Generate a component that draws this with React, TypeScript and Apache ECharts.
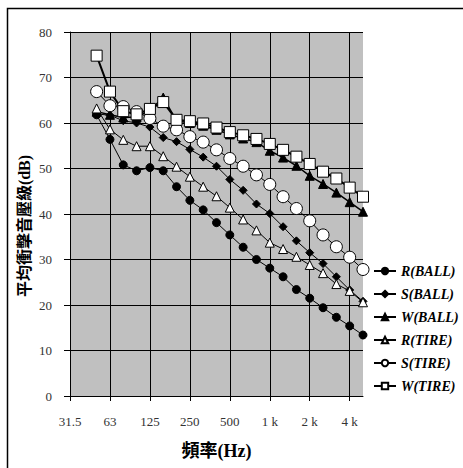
import React, { useEffect, useRef } from "react";
import * as echarts from "echarts";

const categories = [
  "31.5", "40", "50", "63", "80", "100", "125", "160", "200", "250", "315", "400",
  "500", "630", "800", "1 k", "1.25 k", "1.6 k", "2 k", "2.5 k", "3.15 k", "4 k", "5 k",
];
const labelIndices = [0, 3, 6, 9, 12, 15, 18, 21];
const yTicks = { min: 0, max: 80, interval: 10 };

// values from 50 Hz to 5 kHz (first two bands empty)
const rBall = [null, null, 61.8, 56.4, 50.8, 49.5, 50.2, 49.5, 46.0, 43.0, 40.9, 38.1, 35.4, 32.7, 30.0, 28.1, 26.2, 23.4, 21.5, 19.4, 17.3, 15.4, 13.4];
const sBall = [null, null, 62.0, 61.7, 60.5, 60.0, 59.1, 56.8, 55.9, 54.2, 52.5, 50.5, 47.6, 45.2, 42.2, 40.1, 37.2, 34.1, 31.5, 29.1, 26.2, 23.3, 20.8];
const wBall = [null, null, 62.5, 61.8, 61.2, 61.3, 62.8, 65.6, 60.5, 60.0, 59.4, 58.5, 57.5, 56.6, 55.8, 53.9, 52.4, 50.6, 48.4, 46.6, 44.7, 42.6, 40.5];
const rTire = [null, null, 63.2, 58.6, 56.3, 54.9, 54.9, 52.7, 50.4, 48.2, 46.0, 43.9, 41.4, 38.8, 36.4, 33.7, 32.3, 30.6, 28.8, 27.0, 24.6, 23.1, 20.6];
const sTire = [null, null, 66.9, 63.8, 63.6, 62.5, 61.0, 59.3, 58.5, 57.0, 55.8, 54.1, 52.2, 50.5, 48.6, 46.5, 43.8, 41.2, 38.5, 35.4, 32.8, 30.5, 27.8];
const wTire = [null, null, 74.8, 66.9, 62.6, 61.9, 63.1, 64.6, 60.7, 60.4, 59.9, 59.0, 58.0, 57.3, 56.5, 55.4, 54.1, 52.6, 51.0, 49.3, 47.8, 45.8, 43.8];

const seriesNames = ["R(BALL)", "S(BALL)", "W(BALL)", "R(TIRE)", "S(TIRE)", "W(TIRE)"];
const seriesData = [rBall, sBall, wBall, rTire, sTire, wTire];
const seriesSymbols = ["circle", "diamond", "triangle", "triangle", "circle", "rect"];
const seriesSymbolSizes = [8, 8, 9, 9, 12, 11];
const seriesFills = ["#000", "#000", "#000", "#fff", "#fff", "#fff"];
const seriesLineWidths = [1, 1, 1.5, 1, 1, 2];

const serif = "'Liberation Serif', 'Times New Roman', serif";
const titleFont = "'Liberation Serif', 'Noto Sans CJK TC', serif";

export default function App() {
  const ref = useRef<HTMLDivElement>(null);
  useEffect(() => {
    if (!ref.current) return;
    const chart = echarts.init(ref.current, null, { renderer: "svg" });
    const showAt = (i: number) => labelIndices.indexOf(i) >= 0;
    chart.setOption({
      animation: false,
      backgroundColor: "#fff",
      grid: {
        left: 70,
        right: 100,
        top: 32,
        bottom: 72,
        show: true,
        backgroundColor: "#c0c0c0",
        borderWidth: 0,
      },
      graphic: [
        {
          type: "rect",
          shape: { x: 7.5, y: 8.5, width: 520, height: 520 },
          style: { fill: "none", stroke: "#000", lineWidth: 1.5 },
          silent: true,
        },
        {
          type: "text",
          x: 24,
          y: 226,
          rotation: Math.PI / 2,
          style: {
            text: "平均衝擊音壓級(dB)",
            font: `bold 16px ${titleFont}`,
            fill: "#000",
            align: "center",
            verticalAlign: "middle",
          },
        },
      ],
      legend: {
        orient: "vertical",
        left: 368,
        top: 259,
        itemWidth: 22,
        itemHeight: 8,
        itemGap: 9,
        data: seriesNames,
        textStyle: {
          fontFamily: serif,
          fontStyle: "italic",
          fontWeight: "bold",
          fontSize: 14,
          color: "#000",
        },
      },
      xAxis: {
        type: "category",
        data: categories,
        boundaryGap: false,
        name: "頻率(Hz)",
        nameLocation: "middle",
        nameGap: 46,
        nameTextStyle: {
          fontFamily: titleFont,
          fontWeight: "bold",
          fontSize: 18,
          color: "#000",
        },
        axisLine: { show: true, lineStyle: { color: "#000", width: 1 } },
        axisTick: {
          show: true,
          length: 5,
          interval: (i: number) => showAt(i),
          lineStyle: { color: "#000" },
        },
        axisLabel: {
          interval: (i: number) => showAt(i),
          margin: 19,
          fontFamily: serif,
          fontSize: 13,
          color: "#333",
        },
        splitLine: {
          show: true,
          interval: (i: number) => showAt(i) && i !== 0,
          lineStyle: { color: "#000", width: 1 },
        },
      },
      yAxis: {
        type: "value",
        min: yTicks.min,
        max: yTicks.max,
        interval: yTicks.interval,
        axisLine: { show: true, lineStyle: { color: "#000", width: 1 } },
        axisTick: { show: true, length: 6, lineStyle: { color: "#000" } },
        axisLabel: {
          margin: 18,
          fontFamily: serif,
          fontSize: 13,
          color: "#333",
        },
        splitLine: { show: true, lineStyle: { color: "#000", width: 1 } },
      },
      series: seriesNames.map((name, k) => ({
        name,
        type: "line",
        data: seriesData[k],
        symbol: seriesSymbols[k],
        symbolSize: seriesSymbolSizes[k],
        showAllSymbol: true,
        connectNulls: false,
        lineStyle: { color: "#000", width: seriesLineWidths[k] },
        itemStyle: { color: seriesFills[k], borderColor: "#000", borderWidth: 1 },
        emphasis: { disabled: true },
      })),
    });
    return () => chart.dispose();
  }, []);
  return (
    <div
      ref={ref}
      style={{ position: "fixed", left: 0, top: 0, width: 463, height: 468 }}
    />
  );
}
